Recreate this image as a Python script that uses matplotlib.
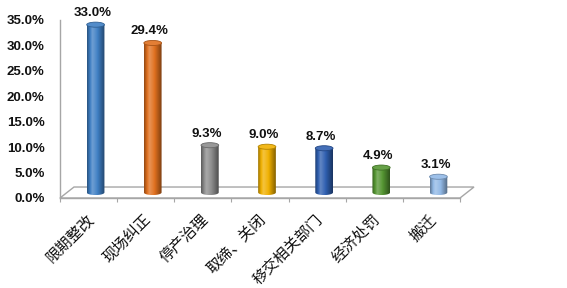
import numpy as np
import matplotlib
matplotlib.use("Agg")
import matplotlib.pyplot as plt
from matplotlib.patches import Ellipse, Polygon, PathPatch
from matplotlib.path import Path
from matplotlib.colors import to_rgb

categories = ["限期整改", "现场纠正", "停产治理", "取缔、关闭", "移交相关部门", "经济处罚", "搬迁"]
values = [0.330, 0.294, 0.093, 0.090, 0.087, 0.049, 0.031]
value_labels = ["33.0%", "29.4%", "9.3%", "9.0%", "8.7%", "4.9%", "3.1%"]
colors = ["#3f7fc4", "#e0701f", "#8c8c8c", "#f0b000", "#2f5fb0", "#559632", "#92b9e6"]
y_ticks = [0, 0.05, 0.10, 0.15, 0.20, 0.25, 0.30, 0.35]

num_font = "Liberation Sans"
cjk_font = ["Noto Sans CJK SC", "DejaVu Sans"]

fig = plt.figure(figsize=(5.67, 2.88), dpi=100)
ax = fig.add_axes([60 / 567, 90 / 288, 400 / 567, 178 / 288])

n = len(categories)
ax.set_xlim(-0.5, n - 0.5)
ax.set_ylim(0, 0.35)

# floor depth (3d look)
ddx = 0.245
ddy = 0.0216
floor = Polygon([(-0.5, 0), (n - 0.5, 0), (n - 0.5 + ddx, ddy), (-0.5 + ddx, ddy)],
                closed=True, facecolor="white", edgecolor="#a6a6a6", lw=1.0,
                clip_on=False, zorder=1)
ax.add_patch(floor)

w = 0.31
eh = 0.010


def shade(c, f):
    c = np.array(to_rgb(c))
    if f >= 0:
        return c + (1 - c) * f
    return c * (1 + f)


for i, (v, c) in enumerate(zip(values, colors)):
    cx = i + ddx / 2
    base = ddy / 2
    top = v + ddy / 2
    x0, x1 = cx - w / 2, cx + w / 2
    # horizontal gradient for the cylinder body
    t = np.linspace(0, 1, 64)
    f = np.interp(t, [0, 0.3, 0.55, 1], [-0.35, 0.25, 0.05, -0.45])
    grad = np.array([shade(c, k) for k in f])[None, :, :]
    im = ax.imshow(grad, extent=[x0, x1, base - eh / 2, top], aspect="auto",
                   interpolation="bilinear", zorder=3)
    th = np.linspace(np.pi, 2 * np.pi, 30)
    verts = [(x0, top), (x0, base)]
    verts += [(cx + w / 2 * np.cos(a), base + eh / 2 * np.sin(a)) for a in th]
    verts += [(x1, top), (x0, top)]
    clip = PathPatch(Path(verts, closed=True), transform=ax.transData,
                     facecolor="none", edgecolor="none")
    ax.add_patch(clip)
    im.set_clip_path(clip)
    ax.add_patch(Ellipse((cx, top), w, eh, facecolor=shade(c, 0.1),
                         edgecolor=shade(c, -0.25), lw=0.6, zorder=4))
    ax.annotate(value_labels[i], (cx, top + eh / 2), xytext=(-3, 3),
                textcoords="offset pixels", ha="center", va="bottom",
                fontsize=9.5, fontweight="bold", family=num_font, color="#111111")

ax.set_xlim(-0.5, n - 0.5)
ax.set_ylim(0, 0.35)

for s in ["top", "right"]:
    ax.spines[s].set_visible(False)
for s in ["left", "bottom"]:
    ax.spines[s].set_color("#a6a6a6")
    ax.spines[s].set_linewidth(1.0)

ax.set_yticks(y_ticks)
ax.set_yticklabels([f"{t * 100:.1f}%" for t in y_ticks], fontsize=9.5,
                   fontweight="bold", family=num_font, color="#111111")
ax.tick_params(axis="y", length=0, pad=11)

ax.set_xticks(np.arange(-0.5, n, 1.0))
ax.set_xticklabels([])
ax.tick_params(axis="x", length=3, color="#a6a6a6", direction="out")

for i, lab in enumerate(categories):
    ax.annotate(lab, (i, 0), xytext=(3, -19), textcoords="offset pixels",
                rotation=45, rotation_mode="anchor", ha="right", va="center",
                fontsize=11, family=cjk_font, color="#111111")

fig.savefig("out.png", dpi=100, facecolor="white")
